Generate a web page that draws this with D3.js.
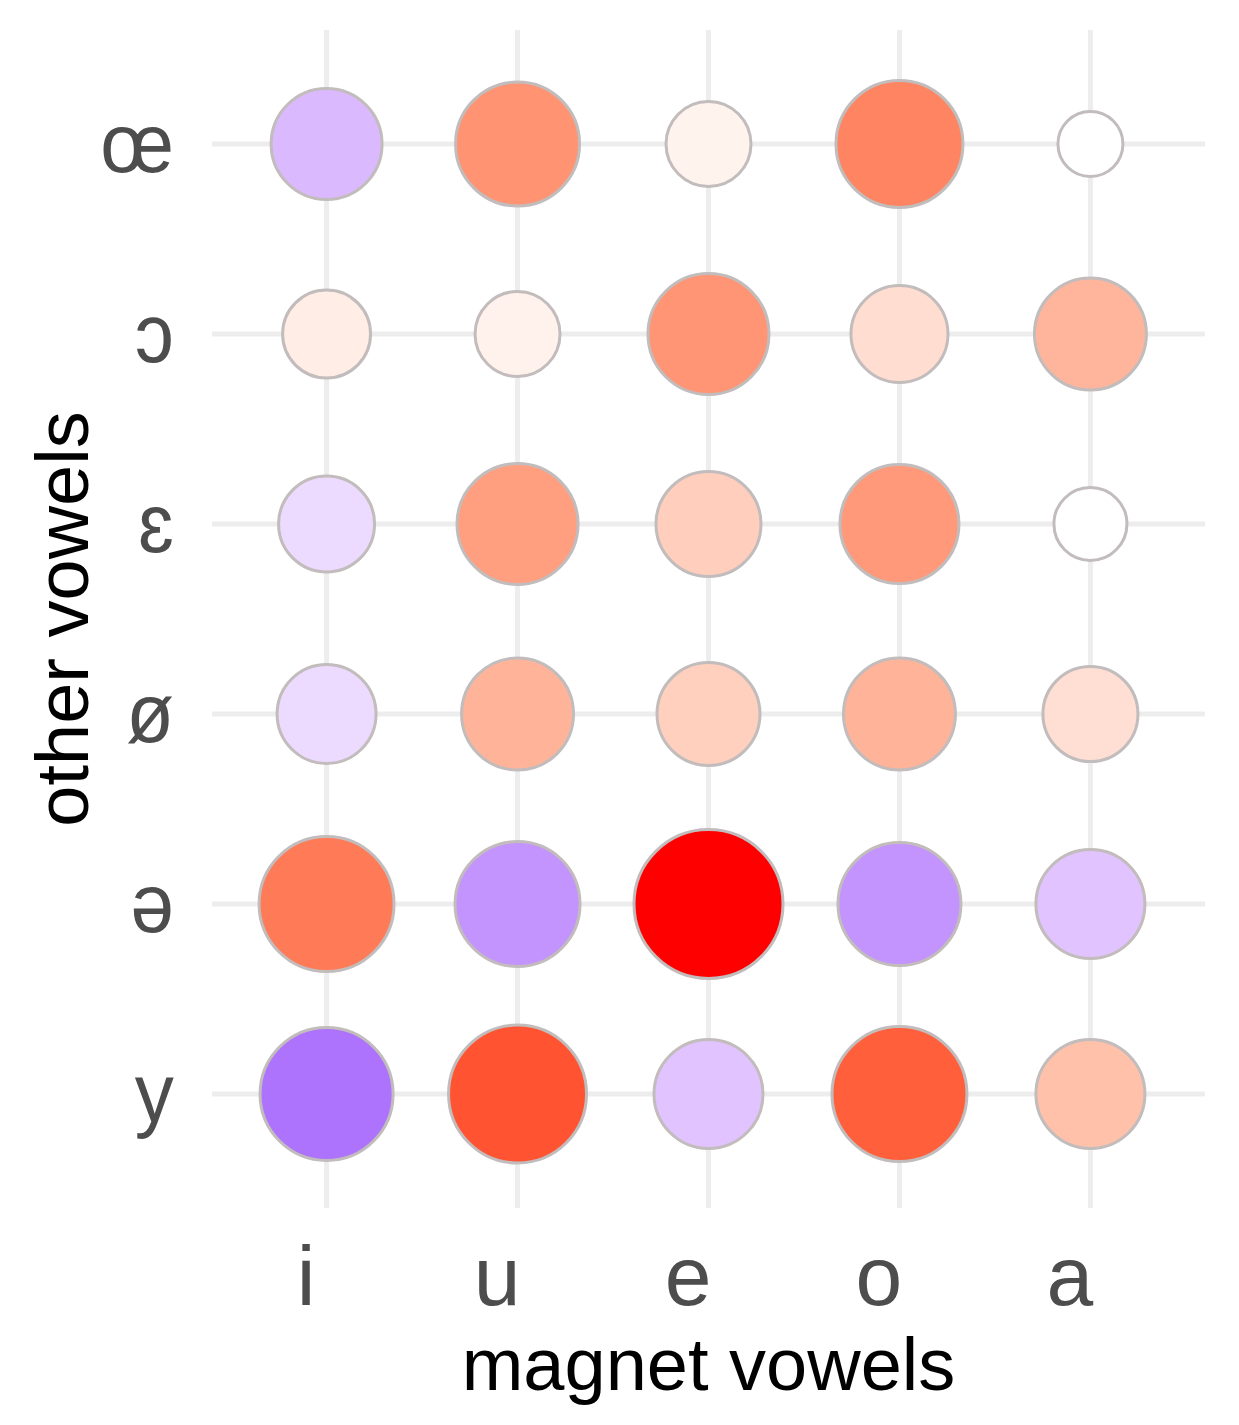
<!DOCTYPE html>
<html>
<head>
<meta charset="utf-8">
<script src="https://cdn.jsdelivr.net/npm/d3@7"></script>
<style>
  html, body { margin: 0; padding: 0; background: #ffffff; }
  svg { display: block; }
  text { font-family: "Liberation Sans", Arial, "DejaVu Sans", sans-serif; }
</style>
</head>
<body>
<svg id="chart" width="1239" height="1425"></svg>
<script>
// ---- data ----
const magnetVowels = ["i", "u", "e", "o", "a"];          // x categories
const otherVowels  = ["œ", "ɔ", "ɛ", "ø", "ə", "y"];      // y categories (top to bottom)

// signed effect (colour): negative = purple, positive = red; one array per row
const effectOE    = [-0.36, 0.56, 0.066, 0.63, 0.0];
const effectOpenO = [0.096, 0.075, 0.55, 0.18, 0.39];
const effectOpenE = [-0.19, 0.50, 0.26, 0.53, 0.0];
const effectOslash= [-0.19, 0.40, 0.25, 0.40, 0.17];
const effectSchwa = [0.67, -0.555, 1.0, -0.555, -0.305];
const effectY     = [-0.72, 0.835, -0.305, 0.79, 0.33];

// point size (area units)
const sizeOE      = [56.2, 69.8, 33.5, 73.1, 20.0];
const sizeOpenO   = [35.8, 33.5, 66.6, 43.3, 57.2];
const sizeOpenE   = [42.4, 66.6, 50.5, 64.4, 25.0];
const sizeOslash  = [45.0, 57.2, 48.6, 57.2, 41.6];
const sizeSchwa   = [82.4, 70.9, 100, 68.7, 54.3];
const sizeY       = [80.1, 86.0, 54.3, 82.4, 54.3];

const effectRows = [effectOE, effectOpenO, effectOpenE, effectOslash, effectSchwa, effectY];
const sizeRows   = [sizeOE, sizeOpenO, sizeOpenE, sizeOslash, sizeSchwa, sizeY];

const xTitle = "magnet vowels";
const yTitle = "other vowels";

// ---- build cells ----
const cells = [];
otherVowels.forEach((ov, r) => {
  magnetVowels.forEach((mv, c) => {
    cells.push({ other: ov, magnet: mv, effect: effectRows[r][c], size: sizeRows[r][c] });
  });
});

// ---- layout ----
const svg = d3.select("#chart");
const panel = { left: 212, right: 1205, top: 30, bottom: 1208 };

const x = d3.scalePoint().domain(magnetVowels).range([panel.left, panel.right]).padding(0.6);
const y = d3.scalePoint().domain(otherVowels).range([panel.top, panel.bottom]).padding(0.6);
const rScale = d3.scaleSqrt().domain([0, 100]).range([0, 76]);
const color = d3.scaleLinear().domain([-1, 0, 1])
  .range(["#8339F8", "#ffffff", "#ff0000"])
  .interpolate(d3.interpolateLab);

// grid lines
const grid = svg.append("g").attr("class", "grid");
grid.selectAll("line.v").data(magnetVowels).join("line")
  .attr("class", "v")
  .attr("x1", d => x(d)).attr("x2", d => x(d))
  .attr("y1", panel.top).attr("y2", panel.bottom)
  .attr("stroke", "#ededed").attr("stroke-width", 5);
grid.selectAll("line.h").data(otherVowels).join("line")
  .attr("class", "h")
  .attr("y1", d => y(d)).attr("y2", d => y(d))
  .attr("x1", panel.left).attr("x2", panel.right)
  .attr("stroke", "#ededed").attr("stroke-width", 5);

// points
svg.append("g").selectAll("circle").data(cells).join("circle")
  .attr("cx", d => x(d.magnet))
  .attr("cy", d => y(d.other))
  .attr("r", d => rScale(d.size) - 1.5)
  .attr("fill", d => color(d.effect))
  .attr("stroke", "#c2bcbc")
  .attr("stroke-width", 3);

// x axis
const xAxis = svg.append("g")
  .attr("transform", `translate(0,${panel.bottom})`)
  .call(d3.axisBottom(x).tickSize(0).tickPadding(0));
xAxis.select(".domain").remove();
xAxis.selectAll("text")
  .attr("y", 97).attr("dy", 0).attr("dx", -21)
  .attr("fill", "#4d4d4d")
  .style("font-size", "84px")
  .style("font-family", "'Liberation Sans', Arial, 'DejaVu Sans', sans-serif");

// y axis
const yAxis = svg.append("g")
  .attr("transform", `translate(${panel.left},0)`)
  .call(d3.axisLeft(y).tickSize(0).tickPadding(0));
yAxis.select(".domain").remove();
yAxis.selectAll(".tick text")
  .attr("x", -41).attr("dy", 27)
  .attr("text-anchor", "end")
  .attr("transform", "scale(0.93,1)")
  .attr("fill", "#4d4d4d")
  .style("font-size", "84px")
  .style("font-family", "'Liberation Sans', Arial, 'DejaVu Sans', sans-serif");

// titles
svg.append("text")
  .attr("x", (panel.left + panel.right) / 2)
  .attr("y", 1390)
  .attr("text-anchor", "middle")
  .attr("fill", "#000")
  .style("font-size", "74px")
  .text(xTitle);

svg.append("text")
  .attr("transform", `translate(88,${(panel.top + panel.bottom) / 2}) rotate(-90)`)
  .attr("text-anchor", "middle")
  .attr("fill", "#000")
  .style("font-size", "74px")
  .text(yTitle);
</script>
</body>
</html>
